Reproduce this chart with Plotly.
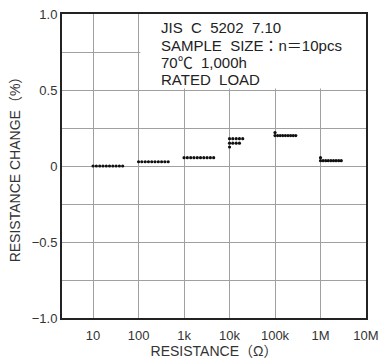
import plotly.graph_objects as go

# Data: (resistance, change %) per sample group
x_10 = [10, 11.8, 14.0, 16.5, 19.5, 23.0, 27.2, 32.1, 37.9, 44.8]
y_10 = [0.0, 0.0, 0.0, 0.0, 0.0, 0.0, 0.0, 0.0, 0.0, 0.0]
x_100 = [100, 118, 140, 165, 195, 230, 272, 321, 379, 448]
y_100 = [0.028, 0.028, 0.028, 0.028, 0.028, 0.028, 0.028, 0.028, 0.028, 0.028]
x_1k = [1000, 1180, 1400, 1650, 1950, 2300, 2720, 3210, 3790, 4480]
y_1k = [0.055, 0.055, 0.055, 0.055, 0.055, 0.055, 0.055, 0.055, 0.055, 0.055]
x_10k = [10000, 11800, 14000, 16500, 19500, 10000, 11800, 14000, 16500, 10000]
y_10k = [0.18, 0.18, 0.18, 0.18, 0.18, 0.15, 0.15, 0.15, 0.15, 0.125]
x_100k = [100000, 100000, 114000, 130000, 148000, 169000, 193000, 220000, 251000, 286000]
y_100k = [0.22, 0.20, 0.20, 0.20, 0.20, 0.20, 0.20, 0.20, 0.20, 0.20]
x_1M = [1.0e6, 1.0e6, 1.14e6, 1.30e6, 1.48e6, 1.69e6, 1.93e6, 2.20e6, 2.51e6, 2.86e6]
y_1M = [0.055, 0.035, 0.035, 0.035, 0.035, 0.035, 0.035, 0.035, 0.035, 0.035]

x_ticks = [10, 100, 1e3, 1e4, 1e5, 1e6, 1e7]
x_ticklabels = ["10", "100", "1k", "10k", "100k", "1M", "10M"]
y_ticks = [-1.0, -0.75, -0.5, -0.25, 0, 0.25, 0.5, 0.75, 1.0]
y_ticklabels = ["−1.0", "", "−0.5", "", "0", "", "0.5", "", "1.0"]

note_lines = ["JIS  C  5202  7.10", "SAMPLE  SIZE：n＝10pcs", "70℃  1,000h", "RATED  LOAD"]

FONT = "Liberation Sans, Noto Sans CJK JP, Arial, sans-serif"

fig = go.Figure()
for xs, ys in [(x_10, y_10), (x_100, y_100), (x_1k, y_1k), (x_10k, y_10k), (x_100k, y_100k), (x_1M, y_1M)]:
    fig.add_trace(go.Scatter(x=xs, y=ys, mode="markers",
                             marker=dict(color="#111", size=3.2, line=dict(width=0)),
                             showlegend=False, hoverinfo="x+y"))

# white panel behind note text
fig.add_shape(type="rect", xref="x", yref="y", x0=10**2.04, x1=10**7.0, y0=0.51, y1=1.0,
              fillcolor="white", line=dict(width=0), layer="between")

for i, line in enumerate(note_lines):
    fig.add_annotation(xref="paper", yref="paper", x=0.32, y=0.954 - i * 0.056,
                       xanchor="left", yanchor="middle",
                       text=line, showarrow=False, align="left",
                       font=dict(family=FONT, size=15, color="#222"))

fig.update_xaxes(type="log", range=[0.317, 7.0], tickvals=x_ticks, ticktext=x_ticklabels,
                 showgrid=True, gridcolor="#a0a0a0", gridwidth=1, ticks="",
                 showline=True, linecolor="#222", linewidth=2, mirror=True, automargin=False,
                 tickfont=dict(family=FONT, size=13, color="#333"), ticklabelstandoff=4,
                 title=dict(text="RESISTANCE（Ω）", font=dict(family=FONT, size=14, color="#333"), standoff=5),
                 zeroline=False)
fig.update_yaxes(range=[-1.0, 1.0], tickvals=y_ticks, ticktext=y_ticklabels,
                 showgrid=True, gridcolor="#a0a0a0", gridwidth=1, ticks="",
                 showline=True, linecolor="#222", linewidth=2, mirror=True, automargin=False,
                 tickfont=dict(family=FONT, size=13, color="#333"),
                 title=dict(text="RESISTANCE CHANGE（%）", font=dict(family=FONT, size=14, color="#333"), standoff=8),
                 zeroline=False)

fig.update_layout(width=379, height=364, margin=dict(l=62, r=13, t=14, b=46),
                  plot_bgcolor="white", paper_bgcolor="white")

fig.write_html("out.html")
